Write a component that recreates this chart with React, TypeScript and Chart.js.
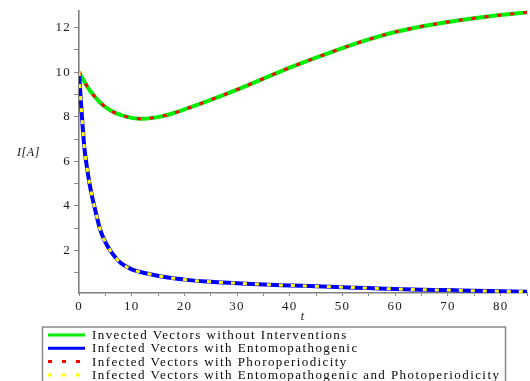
import React, { useEffect, useRef } from 'react';
import { Chart, registerables } from 'chart.js';

Chart.register(...registerables);

// time grid (t)
const timePoints = [0, 0.5, 1, 1.5, 2, 2.5, 3, 4, 5, 6, 8, 10, 12, 14, 16, 18, 20, 25, 30, 35, 40, 45, 50, 55, 60, 65, 70, 75, 80, 85];

// Invected Vectors without Interventions (green)
const withoutInterventions = [10, 9.78, 9.58, 9.38, 9.2, 9.04, 8.9, 8.64, 8.44, 8.28, 8.07, 7.95, 7.91, 7.95, 8.04, 8.17, 8.33, 8.76, 9.22, 9.71, 10.2, 10.65, 11.08, 11.47, 11.8, 12.05, 12.25, 12.42, 12.56, 12.68];

// Infected Vectors with Entomopathogenic (blue)
const withEntomopathogenic = [10, 8.2, 6.65, 5.75, 5.0, 4.4, 3.9, 2.95, 2.38, 1.98, 1.43, 1.16, 1.02, 0.92, 0.83, 0.76, 0.7, 0.6, 0.54, 0.48, 0.44, 0.4, 0.36, 0.32, 0.28, 0.25, 0.23, 0.2, 0.18, 0.16];

// Infected Vectors with Phoroperiodicity (red dotted, overlaps green)
const withPhotoperiodicity = [10, 9.78, 9.58, 9.38, 9.2, 9.04, 8.9, 8.64, 8.44, 8.28, 8.07, 7.95, 7.91, 7.95, 8.04, 8.17, 8.33, 8.76, 9.22, 9.71, 10.2, 10.65, 11.08, 11.47, 11.8, 12.05, 12.25, 12.42, 12.56, 12.68];

// Infected Vectors with Entomopathogenic and Photoperiodicity (yellow dotted, overlaps blue)
const withBoth = [10, 8.2, 6.65, 5.75, 5.0, 4.4, 3.9, 2.95, 2.38, 1.98, 1.43, 1.16, 1.02, 0.92, 0.83, 0.76, 0.7, 0.6, 0.54, 0.48, 0.44, 0.4, 0.36, 0.32, 0.28, 0.25, 0.23, 0.2, 0.18, 0.16];

const seriesLabels = [
  'Invected Vectors without Interventions',
  'Infected Vectors with Entomopathogenic',
  'Infected Vectors with Phoroperiodicity',
  'Infected Vectors with Entomopathogenic and Photoperiodicity',
];

const xTickLabels = ['0', '10', '20', '30', '40', '50', '60', '70', '80'];
const yTickLabels = ['2', '4', '6', '8', '10', '12'];

const X_MIN = 0;
const X_MAX = 85;
const Y_MIN = 0.1;
const Y_MAX = 12.75;

const FONT = 'Liberation Serif';
const SPACING = '1.25px';

const toPoints = (vals: number[]) => vals.map((v, i) => ({ x: timePoints[i], y: v }));

const spacingPlugin = {
  id: 'spacing',
  beforeLayout(chart: any) {
    chart.ctx.letterSpacing = SPACING;
  },
  beforeDraw(chart: any) {
    chart.ctx.letterSpacing = SPACING;
  },
};

const legendPlugin = {
  id: 'boxLegend',
  afterDraw(chart: any) {
    const ctx = chart.ctx;
    ctx.save();
    ctx.letterSpacing = '1.42px';
    ctx.strokeStyle = '#8a8a8a';
    ctx.lineWidth = 1.5;
    ctx.strokeRect(42.5, 327, 463, 90);
    chart.data.datasets.forEach((ds: any, i: number) => {
      const y = 335 + i * 13.3;
      ctx.save();
      ctx.strokeStyle = ds.borderColor;
      ctx.lineWidth = 3;
      ctx.setLineDash(ds.borderDash && ds.borderDash.length ? [4, 10] : []);
      ctx.beginPath();
      ctx.moveTo(48, y);
      ctx.lineTo(85, y);
      ctx.stroke();
      ctx.restore();
      ctx.fillStyle = '#0a0a0a';
      ctx.font = `13px "${FONT}"`;
      ctx.textBaseline = 'middle';
      ctx.textAlign = 'left';
      ctx.fillText(ds.label, 92, y + 0.5);
    });
    // y axis title
    ctx.letterSpacing = '0.6px';
    ctx.font = `italic 12px "${FONT}"`;
    ctx.fillStyle = '#111';
    ctx.textBaseline = 'middle';
    ctx.textAlign = 'left';
    ctx.fillText('I[A]', 17, 153);
    ctx.restore();
  },
};

export default function App() {
  const canvasRef = useRef<HTMLCanvasElement | null>(null);

  useEffect(() => {
    const canvas = canvasRef.current;
    if (!canvas) return;
    const tickFont = { family: FONT, size: 13 };
    const chart = new Chart(canvas, {
      type: 'line',
      data: {
        datasets: [
          {
            label: seriesLabels[0],
            data: toPoints(withoutInterventions),
            borderColor: '#00ee00',
            borderWidth: 4,
            pointRadius: 0,
            cubicInterpolationMode: 'monotone',
            order: 4,
          },
          {
            label: seriesLabels[1],
            data: toPoints(withEntomopathogenic),
            borderColor: '#0000ff',
            borderWidth: 4,
            pointRadius: 0,
            cubicInterpolationMode: 'monotone',
            order: 3,
          },
          {
            label: seriesLabels[2],
            data: toPoints(withPhotoperiodicity),
            borderColor: '#ff0000',
            borderWidth: 3,
            borderDash: [4, 9],
            pointRadius: 0,
            cubicInterpolationMode: 'monotone',
            order: 2,
          },
          {
            label: seriesLabels[3],
            data: toPoints(withBoth),
            borderColor: '#ffff00',
            borderWidth: 3,
            borderDash: [4, 8],
            pointRadius: 0,
            cubicInterpolationMode: 'monotone',
            order: 1,
          },
        ],
      },
      options: {
        animation: false,
        responsive: false,
        layout: { padding: { top: 10, right: 0, bottom: 69, left: 0 } },
        plugins: {
          legend: { display: false },
          tooltip: { enabled: false },
        },
        scales: {
          x: {
            type: 'linear',
            min: X_MIN,
            max: X_MAX,
            afterBuildTicks: (s: any) => {
              s.ticks = s.ticks.filter((t: any) => Math.abs(t.value / 5 - Math.round(t.value / 5)) < 1e-9);
            },
            afterFit: (s: any) => {
              s.height = 33;
            },
            ticks: {
              stepSize: 5,
              autoSkip: false,
              maxRotation: 0,
              font: tickFont,
              color: '#1a1a1a',
              padding: 3,
              callback: (v: any) => (xTickLabels.includes(String(v)) ? String(v) : ''),
            },
            grid: { drawOnChartArea: false, drawTicks: true, tickLength: 3, color: '#888888', lineWidth: 1 },
            border: { display: true, color: '#7f7f7f', width: 1.6 },
            title: {
              display: true,
              text: 't',
              font: { family: FONT, size: 12, style: 'italic' },
              color: '#111',
              padding: { top: 0, bottom: 2 },
            },
          },
          y: {
            type: 'linear',
            min: Y_MIN,
            max: Y_MAX,
            afterBuildTicks: (s: any) => {
              s.ticks = s.ticks.filter((t: any) => Math.abs(t.value - Math.round(t.value)) < 1e-9);
            },
            afterFit: (s: any) => {
              s.width = 79;
            },
            ticks: {
              stepSize: 1,
              autoSkip: false,
              font: tickFont,
              color: '#1a1a1a',
              padding: 3,
              callback: (v: any) => (yTickLabels.includes(String(v)) ? String(v) : ''),
            },
            grid: { drawOnChartArea: false, drawTicks: true, tickLength: 5, color: '#888888', lineWidth: 1 },
            border: { display: true, color: '#7f7f7f', width: 1.6 },
          },
        },
      } as any,
      plugins: [spacingPlugin, legendPlugin],
    });
    return () => chart.destroy();
  }, []);

  return (
    <div style={{ position: 'fixed', left: 0, top: 0, width: 530, height: 381, overflow: 'hidden', background: '#fff' }}>
      <canvas ref={canvasRef} width={530} height={395} style={{ display: 'block', width: 530, height: 395 }} />
    </div>
  );
}
